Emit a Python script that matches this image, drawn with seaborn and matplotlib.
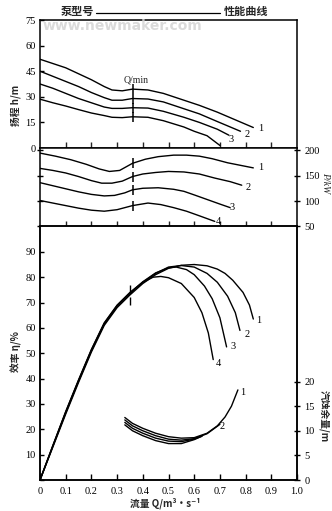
import matplotlib
matplotlib.use("Agg")
import matplotlib.pyplot as plt
from matplotlib.lines import Line2D
import pandas as pd
import seaborn as sns

sns.set_theme(style="ticks")
plt.rcParams["font.family"] = ["Liberation Serif", "Noto Sans CJK SC", "DejaVu Sans"]
plt.rcParams["axes.linewidth"] = 1.1

CJK = ["Noto Sans CJK SC", "DejaVu Sans"]

# ---- head curves h (m) vs flow Q (m^3/s) ----
head_q1 = [0, .05, .10, .15, .20, .25, .28, .32, .36, .42, .48, .56, .62, .69, .76, .83]
head_h1 = [52, 49.5, 47, 43.5, 40, 36, 34, 33.5, 34.5, 34, 32, 28, 25, 21, 16.5, 12]
head_q2 = [0, .05, .10, .15, .20, .25, .28, .32, .36, .42, .48, .56, .62, .69, .78]
head_h2 = [45, 42, 39, 36, 32.5, 29.5, 28, 28, 29, 28.7, 27, 23, 20, 15.5, 9.8]
head_q3 = [0, .05, .10, .15, .20, .25, .28, .32, .36, .42, .48, .56, .62, .69, .735]
head_h3 = [37.5, 35, 32, 29, 26.5, 24, 23.2, 23.2, 23.6, 23.4, 21.5, 18, 15, 11, 7.5]
head_q4 = [0, .05, .10, .15, .20, .25, .28, .32, .36, .42, .48, .56, .60, .65, .70]
head_h4 = [28.6, 26.5, 24.6, 22.5, 20.5, 19, 18, 17.8, 18.3, 18, 16, 12.3, 9.8, 7.2, 1.5]

# ---- shaft power curves P (kW) ----
pow_q1 = [0, .06, .12, .18, .23, .27, .31, .36, .41, .46, .52, .57, .62, .67, .73, .78, .83]
pow_p1 = [194, 188, 181, 172, 163, 158, 160, 174, 182, 187, 190, 190, 188, 183, 175, 170, 165]
pow_q2 = [0, .05, .10, .15, .20, .24, .28, .32, .36, .40, .45, .50, .56, .62, .68, .74, .785]
pow_p2 = [164, 160, 155, 148, 140, 135, 135, 139, 148, 153, 156, 158, 157, 153, 145, 138, 131]
pow_q3 = [0, .05, .10, .15, .20, .25, .29, .33, .36, .40, .46, .52, .56, .60, .65, .70, .74]
pow_p3 = [136, 130, 124, 118, 113, 110, 111, 116, 122, 125, 126, 123, 119, 112, 103, 94, 87]
pow_q4 = [0, .05, .10, .15, .20, .25, .30, .36, .42, .47, .52, .57, .62, .68]
pow_p4 = [101, 96, 91, 86, 82, 80, 83, 91, 96, 93, 87, 80, 71, 60]

# ---- efficiency curves eta (%) ----
eff_q1 = [0, .05, .10, .15, .20, .25, .30, .35, .40, .45, .50, .55, .60, .65, .69, .72, .75, .79, .815, .83]
eff_e1 = [0, 13, 26, 38.5, 50.5, 61, 68, 73, 77.5, 81, 83.5, 84.7, 85, 84.5, 83.2, 81.5, 78.8, 74, 69, 63.5]
eff_q2 = [0, .05, .10, .15, .20, .25, .30, .35, .40, .45, .50, .55, .60, .65, .69, .73, .76, .778]
eff_e2 = [0, 13.3, 26.5, 39, 51, 61.5, 68.5, 73.5, 78, 81.5, 84, 84.6, 84, 81.5, 78, 72.5, 66, 59]
eff_q3 = [0, .05, .10, .15, .20, .25, .30, .35, .40, .45, .50, .53, .57, .60, .64, .67, .70, .726]
eff_e3 = [0, 13.5, 26.8, 39.3, 51.3, 61.8, 68.8, 73.8, 78.2, 81.7, 83.7, 84, 83, 81, 76.5, 71.5, 64, 52.5]
eff_q4 = [0, .05, .10, .15, .20, .25, .30, .35, .40, .44, .47, .50, .55, .60, .63, .655, .674]
eff_e4 = [0, 13.6, 27, 39.5, 51.5, 62, 69, 74, 78, 80, 80.3, 79.8, 77.5, 72, 66, 58, 47.5]

# ---- required NPSH curves (m) ----
npsh_q1 = [.33, .36, .40, .45, .50, .55, .60, .65, .69, .72, .745, .77]
npsh_n1 = [12.7, 11.5, 10.5, 9.5, 8.8, 8.5, 8.6, 9.5, 11.0, 12.8, 15.0, 18.3]
npsh_q2 = [.33, .36, .40, .45, .50, .55, .60, .65, .70]
npsh_n2 = [12.2, 11.0, 10.0, 9.0, 8.3, 8.1, 8.4, 9.4, 11.3]
npsh_q3 = [.33, .36, .40, .45, .50, .55, .60, .63]
npsh_n3 = [11.7, 10.5, 9.5, 8.5, 7.9, 7.8, 8.3, 8.9]
npsh_q4 = [.33, .36, .40, .45, .50, .55, .60, .63]
npsh_n4 = [11.2, 10.0, 9.0, 8.0, 7.4, 7.4, 8.2, 8.9]

q_min = 0.36
curve_ids = ["1", "2", "3", "4"]
x_ticks = [0, .1, .2, .3, .4, .5, .6, .7, .8, .9, 1.0]
x_tick_labels = ["0", "0.1", "0.2", "0.3", "0.4", "0.5", "0.6", "0.7", "0.8", "0.9", "1.0"]
head_ticks = [0, 15, 30, 45, 60, 75]
power_ticks = [50, 100, 150, 200]
eff_ticks = [0, 10, 20, 30, 40, 50, 60, 70, 80, 90]
npsh_ticks = [0, 5, 10, 15, 20]


def frame(qs, vals):
    rows = []
    for cid, q, v in zip(curve_ids, qs, vals):
        rows.append(pd.DataFrame({"Q": q, "v": v, "curve": cid}))
    return pd.concat(rows, ignore_index=True)


head_df = frame([head_q1, head_q2, head_q3, head_q4], [head_h1, head_h2, head_h3, head_h4])
pow_df = frame([pow_q1, pow_q2, pow_q3, pow_q4], [pow_p1, pow_p2, pow_p3, pow_p4])
eff_df = frame([eff_q1, eff_q2, eff_q3, eff_q4], [eff_e1, eff_e2, eff_e3, eff_e4])
npsh_df = frame([npsh_q1, npsh_q2, npsh_q3, npsh_q4], [npsh_n1, npsh_n2, npsh_n3, npsh_n4])

W, H = 332, 511
fig = plt.figure(figsize=(W / 100, H / 100), dpi=100)
fig.patch.set_facecolor("white")


def box(left, top, right, bottom):
    return [left / W, 1 - bottom / H, (right - left) / W, (bottom - top) / H]


ax1 = fig.add_axes(box(40, 20, 297, 148))
ax2 = fig.add_axes(box(40, 148, 297, 226.5))
ax3 = fig.add_axes(box(40, 226.5, 297, 480))
ax3b = ax3.twinx()

black = {c: "black" for c in curve_ids}
line_kw = dict(x="Q", y="v", hue="curve", palette=black, estimator=None,
               sort=False, legend=False, linewidth=1.0)

sns.lineplot(data=head_df, ax=ax1, **line_kw)
sns.lineplot(data=pow_df, ax=ax2, **line_kw)
sns.lineplot(data=eff_df, ax=ax3, **line_kw)
sns.lineplot(data=npsh_df, ax=ax3b, **line_kw)

# minimum-flow marks on each curve
for df, ax in ((head_df, ax1), (pow_df, ax2)):
    pts = df[df["Q"] == q_min]
    ax.plot(pts["Q"], pts["v"], ls="none", marker="|", ms=7, mew=1.1, color="black")
eff_pts = eff_df[(eff_df["Q"] == 0.35) & eff_df["curve"].isin(["1", "4"])]
ax3.plot(eff_pts["Q"], eff_pts["v"] + [2.5, -3.5], ls="none", marker="|", ms=6,
         mew=1.0, color="black")

for ax in (ax1, ax2, ax3, ax3b):
    ax.set_xlim(0, 1.0)
    ax.set_xlabel("")
    ax.set_ylabel("")
    for s in ax.spines.values():
        s.set_visible(True)
        s.set_color("black")
        s.set_linewidth(1.1)

tick_font = dict(labelsize=7.5, colors="black")

ax1.set_ylim(0, 75)
ax1.set_yticks(head_ticks)
ax1.set_yticklabels([str(t) for t in head_ticks])
ax1.set_xticks(x_ticks[1:-1])
ax1.tick_params(axis="x", direction="in", length=4, width=1, labelbottom=False, top=False)
ax1.tick_params(axis="y", direction="in", length=3, width=1, left=True, right=False, pad=3, **tick_font)

ax2.set_ylim(50, 204)
ax2.set_yticks(power_ticks)
ax2.set_yticklabels([str(t) for t in power_ticks])
ax2.set_xticks(x_ticks[1:-1])
ax2.tick_params(axis="x", direction="in", length=4, width=1, labelbottom=False, top=False)
ax2.tick_params(axis="y", direction="inout", length=5, width=1, left=True, right=True,
                labelleft=False, labelright=True, pad=3, **tick_font)

ax3.set_ylim(0, 100)
ax3.set_yticks(eff_ticks)
ax3.set_yticklabels([""] + [str(t) for t in eff_ticks[1:]])
ax3.set_xticks(x_ticks)
ax3.set_xticklabels(x_tick_labels)
ax3.tick_params(axis="x", direction="in", length=4, width=1, top=False, pad=5, **tick_font)
ax3.tick_params(axis="y", direction="in", length=3, width=1, right=False, pad=3, **tick_font)

ax3b.set_ylim(0, 51.5)
ax3b.set_yticks(npsh_ticks)
ax3b.set_yticklabels([str(t) for t in npsh_ticks])
ax3b.tick_params(axis="y", direction="inout", length=5, width=1, pad=3, **tick_font)

# curve numbers
lab = dict(fontsize=7.5, color="black", ha="center", va="center")
for q, h, t in ((0.86, 11.5, "1"), (0.805, 8, "2"), (0.745, 5, "3")):
    ax1.text(q, h, t, **lab)
ax1.text(0.375, 40, "Q/min", fontsize=7, ha="center", va="center")
for q, p, t in ((0.86, 165, "1"), (0.81, 127, "2"), (0.748, 87, "3"), (0.695, 59, "4")):
    ax2.text(q, p, t, **lab)
for q, e, t in ((0.85, 63, "1"), (0.805, 57.5, "2"), (0.752, 52.5, "3"), (0.695, 46, "4")):
    ax3.text(q, e, t, **lab)
for q, n, t in ((0.79, 17.8, "1"), (0.71, 10.8, "2")):
    ax3b.text(q, n, t, **lab)


def fx(px):
    return px / W


def fy(py):
    return 1 - py / H


# axis titles
fig.text(fx(16), fy(105), "扬程 h/m", rotation=90, ha="center", va="center",
         fontsize=7, family=CJK, fontweight="bold")
fig.text(fx(16), fy(352), "效率 η/%", rotation=90, ha="center", va="center",
         fontsize=7, family=CJK, fontweight="bold")
fig.text(fx(326), fy(183), "P/kW", rotation=-90, ha="center", va="center",
         fontsize=7, family=["Liberation Serif"], style="italic")
fig.text(fx(324), fy(416), "汽蚀余量/m", rotation=-90, ha="center", va="center",
         fontsize=7, family=CJK, fontweight="bold")
fig.text(fx(165), fy(503), "流量 Q/m³·s⁻¹", ha="center", va="center",
         fontsize=7, family=CJK, fontweight="bold")

# heading
fig.text(fx(77), fy(11), "泵型号", ha="center", va="center", fontsize=8,
         family=CJK, fontweight="bold")
fig.add_artist(Line2D([fx(96), fx(220)], [fy(13), fy(13)], color="black", lw=0.9))
fig.text(fx(246), fy(11), "性能曲线", ha="center", va="center", fontsize=8,
         family=CJK, fontweight="bold")

# site mark
fig.text(fx(122), fy(26), "www.newmaker.com", ha="center", va="center", fontsize=10,
         fontweight="bold", family=["DejaVu Sans"], color="#d4d4d4", alpha=0.85, zorder=10)

fig.savefig("out.png", dpi=100, facecolor="white")
